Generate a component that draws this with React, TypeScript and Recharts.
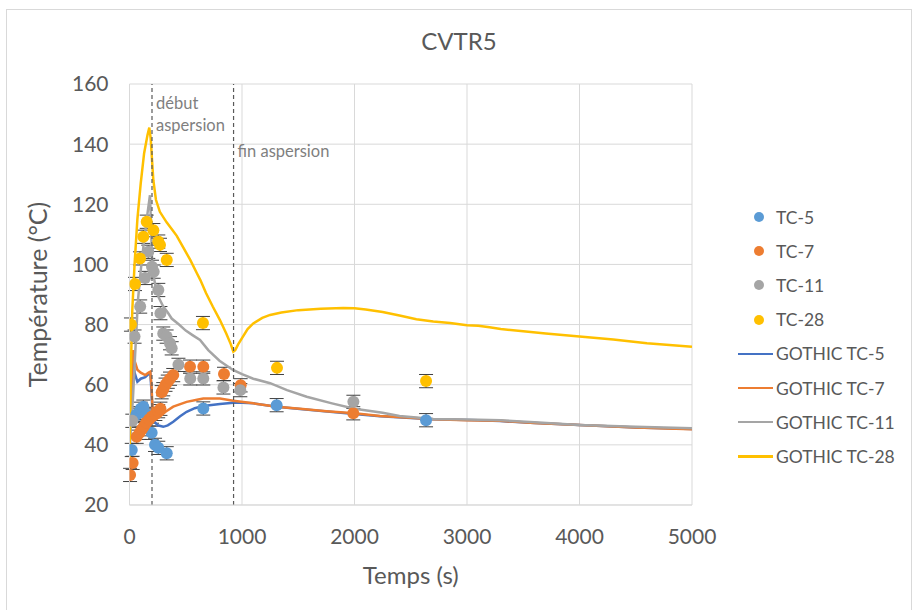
import React from "react";
import {
  ComposedChart,
  Line,
  Scatter,
  ErrorBar,
  XAxis,
  YAxis,
  CartesianGrid,
  ReferenceLine,
  Legend,
} from "recharts";

// temps (s) / température (°C)
const tc5T = [20, 60, 78, 100, 123, 150, 197, 227, 256, 331, 656, 1308, 2636];
const tc5V = [38.3, 50, 50.5, 52, 52.7, 50, 44, 40, 39, 37.2, 52.1, 53.2, 48.2];

const tc7T = [5, 28, 64, 90, 110, 130, 150, 175, 200, 230, 255, 275, 286, 300, 320, 340, 360, 389, 538, 656, 840, 988, 1989];
const tc7V = [30, 34, 42.7, 44, 45.2, 46.3, 47.4, 48.5, 49.4, 50.3, 51.2, 52, 57.5, 58.5, 60, 61, 62, 63.2, 66, 66, 63.6, 59.8, 50.5];

const tc11T = [25, 45, 95, 138, 167, 200, 215, 256, 275, 300, 330, 360, 375, 435, 540, 656, 835, 985, 1990];
const tc11V = [48, 76, 86, 95.5, 104.2, 99.2, 97.6, 91.5, 83.8, 77, 76, 73.8, 72.1, 66.6, 62.1, 62.1, 59.1, 58.2, 54.3];

const tc28T = [13, 49, 93, 123, 153, 212, 256, 271, 331, 653, 1311, 2636];
const tc28V = [80, 93.5, 102, 109.2, 114.2, 111.4, 107.6, 106.5, 101.5, 80.5, 65.6, 61.2];

const ERR = 2.2;

const g5T = [0, 10, 22, 34, 45, 70, 100, 140, 170, 185, 195, 205, 215, 250, 300, 340, 389, 450, 508, 580, 656, 804, 923, 1000, 1100, 1308, 1516, 2000, 2227, 2500, 2700, 3000, 3100, 3293, 3600, 4000, 4500, 5000];
const g5V = [38, 48, 62, 68, 64, 61, 62, 62.5, 63.5, 64, 58, 50, 48, 46.5, 46, 46.5, 47.7, 49.5, 51, 52.2, 52.9, 53.6, 54, 54, 53.8, 52.7, 51.9, 50.3, 49.5, 48.9, 48.5, 48.3, 48.2, 47.9, 47.3, 46.6, 45.8, 45.3];

const g7T = [0, 10, 22, 34, 45, 70, 100, 140, 170, 185, 195, 205, 212, 240, 271, 320, 389, 508, 600, 656, 804, 923, 1100, 1308, 1516, 1750, 2000, 2227, 2500, 2700, 3000, 3293, 3600, 4000, 4500, 5000];
const g7V = [38, 50, 65, 71.5, 68, 65, 64, 63.2, 64, 64.3, 60, 52, 48.2, 48.6, 49.4, 51, 52.7, 54.3, 55, 55.4, 55.4, 54.7, 53.8, 52.7, 52, 51.2, 50.5, 49.6, 49, 48.5, 48.2, 48, 47.3, 46.6, 45.8, 45.2];

const g11T = [0, 15, 30, 50, 75, 100, 130, 160, 182, 190, 200, 210, 230, 260, 300, 340, 375, 440, 500, 560, 627, 700, 800, 920, 1000, 1100, 1250, 1400, 1575, 1800, 2000, 2250, 2400, 2700, 3000, 3300, 3600, 4000, 4500, 5000];
const g11V = [38, 48, 55, 70, 88, 98, 108, 117, 123, 115, 102, 97, 93, 89, 86, 84, 82, 80, 78, 76.5, 74.9, 71.5, 68, 64.9, 63.5, 62, 60.5, 58.2, 56, 53.8, 52, 50.7, 49.6, 48.6, 48.4, 48.2, 47.5, 46.6, 46, 45.5];

const g28T = [0, 10, 25, 45, 70, 100, 130, 160, 176, 188, 198, 212, 235, 270, 330, 380, 420, 480, 540, 600, 630, 680, 740, 804, 860, 900, 923, 940, 967, 1000, 1050, 1100, 1180, 1250, 1350, 1500, 1700, 1900, 2000, 2100, 2250, 2400, 2550, 2700, 2850, 3000, 3100, 3200, 3300, 3500, 3700, 4000, 4300, 4600, 5000];
const g28V = [35, 62, 85, 100, 115, 127, 137, 143, 145.5, 142, 136, 128, 121.5, 117.5, 114, 111.5, 109.5, 105.5, 101.5, 97, 94.8, 90.5, 86, 81.5, 77, 73.5, 71, 71.5, 73.5, 75.5, 78.5, 80.4, 82.2, 83.2, 84, 84.8, 85.3, 85.5, 85.4, 85, 84.2, 83, 81.8, 81, 80.5, 79.8, 79.6, 79.1, 78.5, 77.8, 77, 76, 75, 73.8, 72.6];

const xTicks = [0, 1000, 2000, 3000, 4000, 5000];
const yTicks = [20, 40, 60, 80, 100, 120, 140, 160];

const DEBUT = 200;
const FIN = 925;

const pts = (ts: number[], vs: number[]) => ts.map((t, i) => ({ t, v: vs[i], err: ERR }));
const curve = (ts: number[], vs: number[]) => ts.map((t, i) => ({ t, v: vs[i] }));

const FONT = "Lato, 'Open Sans', sans-serif";
const TXT = "#595959";

const scatterSeries = [
  { name: "TC-5", color: "#5B9BD5", data: pts(tc5T, tc5V) },
  { name: "TC-7", color: "#ED7D31", data: pts(tc7T, tc7V) },
  { name: "TC-11", color: "#A5A5A5", data: pts(tc11T, tc11V) },
  { name: "TC-28", color: "#FFC000", data: pts(tc28T, tc28V) },
];

const lineSeries = [
  { name: "GOTHIC TC-5", color: "#4472C4", data: curve(g5T, g5V) },
  { name: "GOTHIC TC-7", color: "#ED7D31", data: curve(g7T, g7V) },
  { name: "GOTHIC TC-11", color: "#A5A5A5", data: curve(g11T, g11V) },
  { name: "GOTHIC TC-28", color: "#FFC000", data: curve(g28T, g28V) },
];

function LegendBox() {
  return (
    <div style={{ fontFamily: FONT, fontSize: 17.5, color: TXT }}>
      {scatterSeries.map((s) => (
        <div key={s.name} style={{ height: 34.2, display: "flex", alignItems: "center" }}>
          <span style={{ width: 38, display: "flex", justifyContent: "center" }}>
            <span style={{ width: 10, height: 10, borderRadius: 5, background: s.color, marginLeft: 4 }} />
          </span>
          <span>{s.name}</span>
        </div>
      ))}
      {lineSeries.map((s) => (
        <div key={s.name} style={{ height: 34.2, display: "flex", alignItems: "center" }}>
          <span style={{ width: 35, height: 2.5, background: s.color, marginRight: 3 }} />
          <span>{s.name}</span>
        </div>
      ))}
    </div>
  );
}

const aspLabel = (lines: string[], dy: number) => (props: any) => {
  const vb = props.viewBox || {};
  return (
    <text x={vb.x + 4} y={vb.y + dy} fill="#7f7f7f" fontFamily={FONT} fontSize={16.5}>
      {lines.map((l, i) => (
        <tspan key={i} x={vb.x + 4} dy={i === 0 ? 0 : 22}>
          {l}
        </tspan>
      ))}
    </text>
  );
};

export default function App() {
  return (
    <div
      style={{
        position: "absolute",
        left: 6,
        top: 9,
        width: 906,
        height: 605,
        border: "1px solid #d9d9d9",
        boxSizing: "border-box",
        background: "#fff",
      }}
    >
      <div
        style={{
          position: "absolute",
          top: 16,
          width: "100%",
          textAlign: "center",
          fontFamily: FONT,
          fontSize: 24,
          color: TXT,
        }}
      >
        CVTR5
      </div>
      <ComposedChart width={904} height={598} margin={{ top: 74, right: 219, bottom: 43, left: 62.5 }}>
        <CartesianGrid stroke="#d9d9d9" strokeWidth={1} />
        <XAxis
          type="number"
          dataKey="t"
          domain={[0, 5000]}
          ticks={xTicks}
          allowDataOverflow
          height={60}
          stroke="#d9d9d9"
          tickLine={false}
          tickSize={0}
          tickMargin={24}
          tick={{ fill: TXT, fontSize: 21, fontFamily: FONT }}
          label={(p: any) => (
            <text
              x={p.viewBox.x + p.viewBox.width / 2}
              y={p.viewBox.y + 79}
              textAnchor="middle"
              fill={TXT}
              fontFamily={FONT}
              fontSize={24}
            >
              Temps (s)
            </text>
          )}
        />
        <YAxis
          type="number"
          dataKey="v"
          domain={[20, 160]}
          ticks={yTicks}
          allowDataOverflow
          width={60}
          stroke="#d9d9d9"
          tickLine={false}
          tickSize={0}
          tickMargin={21}
          tick={{ fill: TXT, fontSize: 21, fontFamily: FONT }}
          label={(p: any) => (
            <text
              x={40}
              y={p.viewBox.y + p.viewBox.height / 2}
              textAnchor="middle"
              transform={`rotate(-90 40 ${p.viewBox.y + p.viewBox.height / 2})`}
              fill={TXT}
              fontFamily={FONT}
              fontSize={25}
            >
              Température (°C)
            </text>
          )}
        />
        {scatterSeries.map((s) => (
          <Scatter
            key={s.name}
            name={s.name}
            data={s.data}
            fill={s.color}
            isAnimationActive={false}
            shape={(p: any) => <circle cx={p.cx} cy={p.cy} r={6} fill={s.color} />}
          >
            <ErrorBar dataKey="err" direction="y" width={7} stroke="#404040" strokeWidth={1} />
          </Scatter>
        ))}
        {lineSeries.map((s) => (
          <Line
            key={s.name}
            name={s.name}
            data={s.data}
            dataKey="v"
            type="linear"
            stroke={s.color}
            strokeWidth={2.5}
            dot={false}
            activeDot={false}
            isAnimationActive={false}
          />
        ))}
        <ReferenceLine x={DEBUT} stroke="#595959" strokeDasharray="4 3" strokeWidth={1.2} label={aspLabel(["début", "aspersion"], 25)} />
        <ReferenceLine x={FIN} stroke="#595959" strokeDasharray="4 3" strokeWidth={1.2} label={aspLabel(["fin aspersion"], 73)} />
        <Legend
          verticalAlign="middle"
          align="center"
          content={() => <LegendBox />}
          wrapperStyle={{ left: 731, top: 190, width: 175, height: 280 }}
        />
      </ComposedChart>
    </div>
  );
}
